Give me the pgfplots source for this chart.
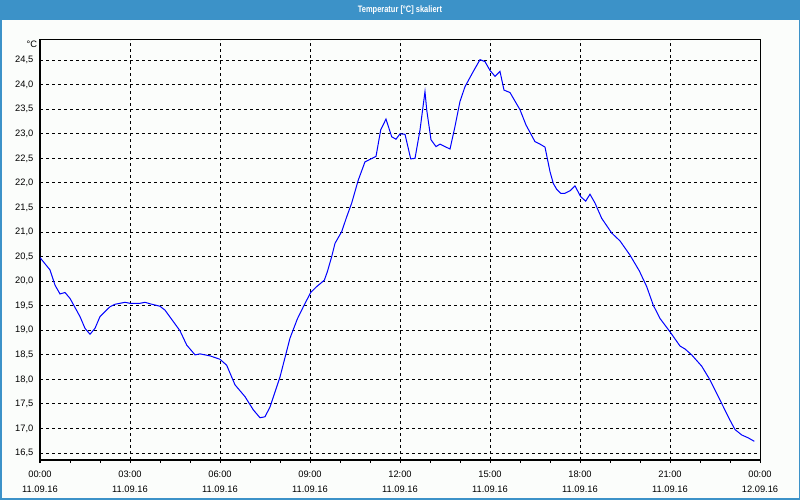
\documentclass[border=0pt]{standalone}
\usepackage{fontspec}
\setmainfont{Liberation Sans}
\newfontfamily\titlefont{Liberation Sans}[FakeStretch=0.8]
\usepackage{pgfplots}
\usepackage{pgfplotstable}
\pgfplotsset{compat=1.18}
\definecolor{barblue}{RGB}{60,146,200}
\definecolor{bgc}{RGB}{251,253,251}
\pgfplotstableread{
h T
0.000 20.48
0.333 20.23
0.500 19.92
0.667 19.74
0.833 19.77
1.000 19.65
1.333 19.28
1.500 19.04
1.667 18.92
1.833 19.04
2.000 19.28
2.333 19.48
2.500 19.53
2.833 19.57
3.000 19.55
3.333 19.55
3.500 19.57
3.667 19.54
4.000 19.49
4.167 19.41
4.667 18.99
4.890 18.70
5.167 18.50
5.333 18.52
5.667 18.48
6.000 18.41
6.222 18.29
6.500 17.89
6.833 17.65
7.111 17.38
7.333 17.22
7.500 17.24
7.667 17.44
8.000 18.05
8.333 18.84
8.577 19.23
8.777 19.48
9.023 19.77
9.223 19.89
9.477 20.02
9.577 20.19
9.723 20.50
9.833 20.77
10.057 21.01
10.223 21.31
10.390 21.59
10.610 22.06
10.833 22.43
11.000 22.48
11.200 22.54
11.357 23.08
11.533 23.30
11.723 22.94
11.867 22.89
12.000 23.00
12.167 22.99
12.357 22.49
12.500 22.50
12.667 23.08
12.833 23.86
12.890 23.49
13.033 22.88
13.200 22.74
13.333 22.79
13.667 22.69
13.833 23.15
14.000 23.66
14.167 23.96
14.443 24.27
14.667 24.51
14.833 24.47
15.000 24.29
15.167 24.17
15.333 24.27
15.467 23.89
15.667 23.84
16.000 23.49
16.200 23.18
16.500 22.84
16.667 22.79
16.833 22.73
16.910 22.50
17.000 22.23
17.110 21.99
17.223 21.87
17.357 21.79
17.500 21.79
17.667 21.84
17.833 21.94
18.023 21.72
18.190 21.63
18.333 21.77
18.500 21.59
18.723 21.28
19.057 20.98
19.333 20.82
19.667 20.53
19.977 20.21
20.223 19.89
20.443 19.51
20.667 19.24
21.000 18.97
21.333 18.68
21.500 18.62
21.723 18.50
22.057 18.27
22.333 17.99
22.723 17.51
23.000 17.17
23.167 16.98
23.390 16.87
23.610 16.81
23.810 16.74
}\tempdata
\begin{document}
\begin{tikzpicture}[x=0.75pt,y=0.75pt]
\useasboundingbox (0,0) rectangle (800,500);
\fill[bgc] (0,0) rectangle (800,500);
\fill[barblue] (0,479.5) rectangle (800,500);
\fill[barblue] (0,0) rectangle (1.5,500);
\fill[barblue] (798.5,0) rectangle (800,500);
\fill[barblue] (0,0) rectangle (800,2);
\node[text=white, anchor=base, inner sep=0pt, font=\titlefont\bfseries\fontsize{7}{8}\selectfont] at (400,487.5) {Temperatur [°C] skaliert};
\begin{axis}[
  name=ax,
  at={(30pt,30pt)}, anchor=south west,
  scale only axis, width=540pt, height=315pt,
  xmin=0, xmax=24, ymin=16.36, ymax=24.91,
  axis line style={black, line width=0.75pt},
  xtick={0,3,...,24},
  minor xtick={1,2,4,5,7,8,10,11,13,14,16,17,19,20,22,23},
  xticklabels={{00:00\\11.09.16},{03:00\\11.09.16},{06:00\\11.09.16},{09:00\\11.09.16},{12:00\\11.09.16},{15:00\\11.09.16},{18:00\\11.09.16},{21:00\\11.09.16},{00:00\\12.09.16}},
  xtick pos=bottom, ytick pos=left,
  tick align=outside,
  major tick length=2.25pt, minor tick length=2.25pt,
  xtick style={black, line width=0.75pt},
  minor tick style={black, line width=0.75pt},
  ytick style={draw=none},
  ytick={16.5,17,...,24.5},
  yticklabel style={/pgf/number format/fixed, /pgf/number format/fixed zerofill, /pgf/number format/precision=1, /pgf/number format/use comma, /pgf/number format/assume math mode=true, inner sep=0pt, xshift=-2.5pt, font=\fontsize{7}{8}\selectfont},
  xticklabel style={align=center, inner sep=0pt, yshift=-5.5pt, font=\fontsize{7}{11.25}\selectfont},
  xmajorgrids, ymajorgrids,
  major grid style={black, line width=0.75pt, dash pattern=on 2.25pt off 2.25pt},
]
\addplot[blue, line width=0.75pt, sharp plot, mark=none] table[x=h, y=T] {\tempdata};
\end{axis}
\node[anchor=north east, inner sep=0pt, font=\fontsize{7}{8}\selectfont] at ([xshift=-2pt, yshift=-0.5pt]ax.north west) {°C};
\end{tikzpicture}
\end{document}
